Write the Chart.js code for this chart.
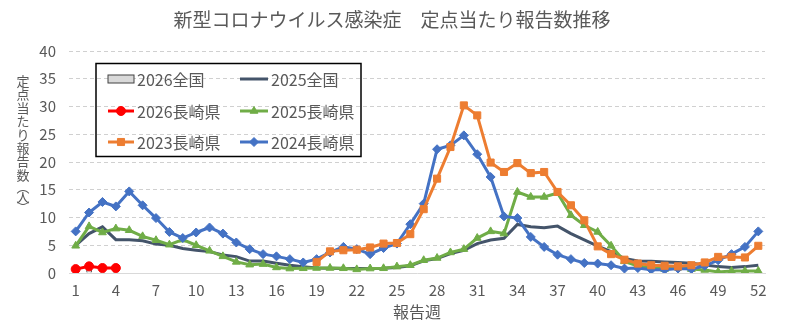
<!DOCTYPE html>
<html lang="ja">
<head>
<meta charset="utf-8">
<title>新型コロナウイルス感染症 定点当たり報告数推移</title>
<script src="https://cdn.jsdelivr.net/npm/chart.js@4/dist/chart.umd.min.js"></script>
<style>
  html, body { margin: 0; padding: 0; background: #fff; }
  #wrap { width: 788px; height: 324px; }
</style>
</head>
<body>
<div id="wrap"><canvas id="grafico" width="788" height="324"></canvas></div>
<script>
// 報告週 1〜52
const semanas = [1, 2, 3, 4, 5, 6, 7, 8, 9, 10, 11, 12, 13, 14, 15, 16, 17, 18, 19, 20, 21, 22, 23, 24, 25, 26,
  27, 28, 29, 30, 31, 32, 33, 34, 35, 36, 37, 38, 39, 40, 41, 42, 43, 44, 45, 46, 47, 48, 49, 50, 51, 52];
const yTicks = [0, 5, 10, 15, 20, 25, 30, 35, 40];

const zenkoku2026 = [1.0, 1.4, 1.4, 1.2];
const nagasaki2026 = [0.7, 1.2, 0.9, 0.9];

const zenkoku2025 = [5.0, 7.1, 8.3, 6.0, 6.0, 5.8, 5.2, 5.0, 4.4, 4.1, 3.85, 3.25, 2.95, 2.15, 2.15, 1.75, 1.4, 1.15,
  0.9, 0.85, 0.8, 0.8, 0.8, 0.85, 1.0, 1.3, 2.2, 2.6, 3.5, 4.1, 5.3, 5.95, 6.25, 8.75, 8.35, 8.15, 8.45, 7.1,
  5.95, 4.85, 3.85, 2.6, 2.15, 2.1, 2.0, 1.9, 1.75, 1.45, 1.15, 1.0, 1.15, 1.4];

const nagasaki2025 = [4.9, 8.4, 7.3, 8.0, 7.7, 6.6, 5.9, 5.1, 6.0, 5.0, 4.0, 3.0, 2.0, 1.5, 1.6, 1.0, 0.8, 0.85,
  0.9, 0.9, 0.85, 0.65, 0.8, 0.85, 1.15, 1.4, 2.3, 2.7, 3.7, 4.3, 6.3, 7.5, 7.1, 14.6, 13.7, 13.7, 14.4, 10.4,
  8.6, 7.4, 4.9, 2.1, 1.25, 0.95, 0.7, 0.95, 0.7, 0.55, 0.2, 0.35, 0.35, 0.35];

const nagasaki2023 = [null, null, null, null, null, null, null, null, null, null, null, null, null, null, null,
  null, null, null, 2.0, 3.9, 4.1, 4.2, 4.6, 5.3, 5.4, 7.0, 11.5, 17.0, 22.7, 30.2, 28.4, 19.9, 18.2, 19.8,
  18.0, 18.2, 14.6, 12.2, 9.5, 4.8, 3.4, 2.4, 1.7, 1.4, 1.3, 1.2, 1.4, 1.9, 2.9, 2.9, 2.8, 4.9];

const nagasaki2024 = [7.5, 10.9, 12.8, 12.0, 14.7, 12.2, 9.9, 7.4, 6.3, 7.3, 8.2, 7.1, 5.5, 4.3, 3.4, 3.0, 2.5, 1.9,
  2.5, 3.7, 4.7, 4.3, 3.4, 4.5, 5.3, 8.8, 12.5, 22.3, 23.0, 24.8, 21.4, 17.3, 10.2, 9.9, 6.5, 4.7, 3.3, 2.5,
  1.8, 1.7, 1.4, 0.8, 0.9, 0.6, 0.6, 0.8, 0.7, 1.3, 2.3, 3.4, 4.7, 7.5];

const titulo = '新型コロナウイルス感染症　定点当たり報告数推移';
const tituloEjeY = ['定', '点', '当', 'た', 'り', '報', '告', '数', '︵', '人', '︶'];
const tituloEjeX = '報告週';

const FUENTE = "'Noto Sans CJK JP', 'Noto Sans', sans-serif";
const GRIS_TEXTO = '#595959';

function serieLinea(label, data, color, punto, radio, orden) {
  return {
    type: 'line',
    label,
    data,
    borderColor: color,
    backgroundColor: color,
    borderWidth: 3,
    tension: 0,
    pointStyle: punto,
    pointRadius: punto ? radio : 0,
    pointBorderWidth: 1,
    pointBorderColor: color,
    pointBackgroundColor: color,
    order: orden
  };
}

const datasets = [
  {
    type: 'bar',
    label: '2026全国',
    data: zenkoku2026,
    backgroundColor: '#D9D9D9',
    borderColor: '#404040',
    borderWidth: 1,
    barThickness: 5,
    order: 6
  },
  serieLinea('2025全国', zenkoku2025, '#44546A', false, 0, 5),
  serieLinea('2026長崎県', nagasaki2026, '#FF0000', 'circle', 4.5, 1),
  serieLinea('2025長崎県', nagasaki2025, '#70AD47', 'triangle', 4.5, 4),
  serieLinea('2023長崎県', nagasaki2023, '#ED7D31', 'rect', 5, 2),
  serieLinea('2024長崎県', nagasaki2024, '#4472C4', 'rectRot', 4.5, 3)
];

// 凡例・タイトル類はキャンバスに直接描く
const textosExtra = {
  id: 'textosExtra',
  afterDraw(chart) {
    const ctx = chart.ctx;
    ctx.save();
    ctx.fillStyle = GRIS_TEXTO;
    ctx.textBaseline = 'middle';

    ctx.font = '19px ' + FUENTE;
    ctx.textAlign = 'center';
    ctx.fillText(titulo, 392, 20);

    ctx.font = '16px ' + FUENTE;
    ctx.fillText(tituloEjeX, (chart.chartArea.left + chart.chartArea.right) / 2, 312);

    // 縦書きの軸タイトル
    ctx.font = '13px ' + FUENTE;
    tituloEjeY.forEach((c, i) => {
      let y = 81 + i * 13.4;
      if (i === 8) y = 187;
      if (i === 9) y = 197;
      if (i === 10) y = 207;
      ctx.fillText(c, 23, y);
    });

    // 凡例の枠
    ctx.lineWidth = 1.5;
    ctx.strokeStyle = '#000';
    ctx.strokeRect(96, 63.5, 265, 93);

    const filas = [79, 111, 142];
    const cols = [{ x0: 108, x1: 134, tx: 137 }, { x0: 240, x1: 268, tx: 271 }];
    ctx.font = '16px ' + FUENTE;
    ctx.textAlign = 'left';
    chart.data.datasets.forEach((ds, i) => {
      const c = cols[i % 2];
      const y = filas[Math.floor(i / 2)];
      if (ds.type === 'bar') {
        ctx.fillStyle = ds.backgroundColor;
        ctx.fillRect(c.x0, y - 4, c.x1 - c.x0, 8);
        ctx.strokeStyle = ds.borderColor;
        ctx.lineWidth = 1;
        ctx.strokeRect(c.x0, y - 4, c.x1 - c.x0, 8);
      } else {
        ctx.strokeStyle = ds.borderColor;
        ctx.lineWidth = 3;
        ctx.beginPath();
        ctx.moveTo(c.x0, y);
        ctx.lineTo(c.x1, y);
        ctx.stroke();
        if (ds.pointStyle) {
          ctx.fillStyle = ds.borderColor;
          ctx.lineWidth = 1;
          Chart.helpers.drawPoint(ctx, {
            pointStyle: ds.pointStyle,
            radius: ds.pointRadius,
            rotation: 0,
            borderWidth: 1
          }, (c.x0 + c.x1) / 2, y);
        }
      }
      ctx.fillStyle = GRIS_TEXTO;
      ctx.fillText(ds.label, c.tx, y + 1);
    });
    ctx.restore();
  }
};

new Chart(document.getElementById('grafico'), {
  type: 'bar',
  data: { labels: semanas, datasets },
  options: {
    responsive: false,
    animation: false,
    layout: { padding: { top: 51, right: 23, bottom: 0, left: 0 } },
    plugins: {
      legend: { display: false },
      title: { display: false },
      tooltip: { enabled: false }
    },
    scales: {
      x: {
        offset: true,
        grid: { display: false, drawTicks: false },
        border: { display: true, color: '#D9D9D9', width: 1 },
        ticks: {
          autoSkip: false,
          maxRotation: 0,
          padding: 8,
          color: GRIS_TEXTO,
          font: { family: FUENTE, size: 15 },
          callback: (v, i) => (i % 3 === 0 ? semanas[i] : '')
        },
        afterFit: s => { s.height = 51; }
      },
      y: {
        min: 0,
        max: 40,
        grid: { color: '#D0D0D0', drawTicks: false, lineWidth: 1 },
        border: { display: false, dash: [4, 3] },
        ticks: {
          stepSize: 5,
          padding: 13,
          color: GRIS_TEXTO,
          font: { family: FUENTE, size: 15 },
          callback: v => (yTicks.includes(v) ? v : '')
        },
        afterFit: s => { s.width = 69; }
      }
    }
  },
  plugins: [textosExtra]
});
</script>
</body>
</html>
